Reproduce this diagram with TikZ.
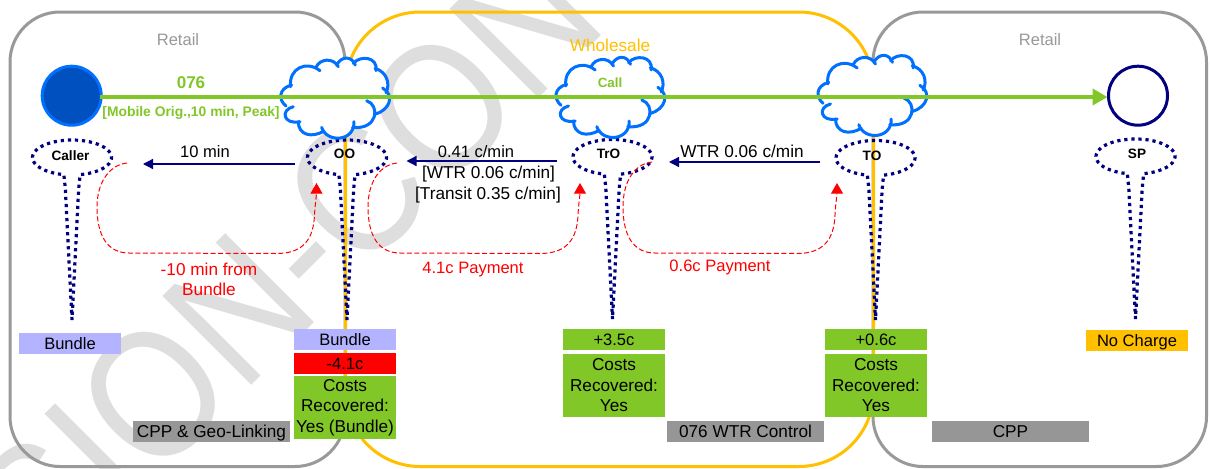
\documentclass[tikz,border=0pt]{standalone}
\usepackage{fontspec}
\setmainfont{Liberation Sans}
\newfontfamily\wmfont[FakeStretch=0.87]{Liberation Sans}
\usetikzlibrary{arrows.meta}
\definecolor{gold}{HTML}{FFC000}
\definecolor{panelgrey}{HTML}{999999}
\definecolor{tagrey}{HTML}{969696}
\definecolor{lilac}{HTML}{B3B3FF}
\definecolor{leaf}{HTML}{82C728}
\definecolor{cloudblue}{HTML}{0070FF}
\definecolor{deep}{HTML}{0050BF}
\definecolor{inknavy}{HTML}{000080}
\definecolor{wm}{HTML}{DEDEDE}
\def\px{0.75pt}
\newcommand{\fs}{\fontsize{12.4}{15.4}\selectfont}
\newcommand{\fm}{\fontsize{12.9}{15.4}\selectfont}
\newcommand{\fb}{\fontsize{10.2}{12}\selectfont\bfseries}
\tikzset{
  panel/.style={line width=3*\px,rounded corners=#1},
  tag/.style={rectangle,inner sep=0pt,font=\fs,align=center,text=black},
  plain/.style={inner sep=0pt,font=\fs,align=center},
  plainm/.style={inner sep=0pt,font=\fm,align=center},
  wbox/.style={tag,minimum width=102*\px,minimum height=21*\px,text height=9.6pt,text depth=0pt},
  tallbox/.style={tag,font=\fm,fill=leaf,minimum width=102*\px,minimum height=63*\px},
  graybox/.style={tag,font=\fm,fill=tagrey,minimum width=157*\px,minimum height=21*\px,text height=9.6pt,text depth=0pt},
  flow/.style={draw=inknavy,line width=1.3*\px,-{Triangle[length=10*\px,width=10*\px]}},
  pay/.style={draw=red,line width=1*\px,dash pattern=on 3.75pt off 1.9pt,-{Triangle[length=8pt,width=9pt]}},
  funnel/.style={draw=inknavy,line width=2.4pt,dash pattern=on 2.4pt off 2.9pt},
  lobe/.style={draw=cloudblue,line width=3*\px,line cap=round},
  rname/.style={inner sep=0pt,font=\fb},
  redtxt/.style={plainm,text=red},
}
\newcommand{\funnelat}[3]{% x, ellipse y, tip y
  \draw[funnel] (#1,#3) -- (#1-6.6,190) .. controls (#1-7.2,183) and (#1-7.5,180) .. (#1-8.2,#2+17.1)
    -- plot[domain=102:438,samples=70,smooth] ({#1+39.5*cos(\x)},{#2+17.5*sin(\x)})
    .. controls (#1+7.5,180) and (#1+7.2,183) .. (#1+6.6,190) -- (#1,#3);
}
\newcommand{\cloudat}[2]{%
  \begin{scope}[shift={(#1,#2)},x=.25pt,y=-.25pt,shift={(-196,-143)}]
    \fill[white] (48,168) .. controls (25,150) and (25,115) .. (65,105)
      .. controls (55,55) and (110,30) .. (150,62)
      .. controls (150,25) and (190,22) .. (205,50)
      .. controls (215,17) and (245,17) .. (256,45)
      .. controls (270,15) and (325,20) .. (318,62)
      .. controls (350,65) and (362,100) .. (348,128)
      .. controls (375,135) and (360,180) .. (316,192)
      .. controls (325,240) and (270,240) .. (248,232)
      .. controls (235,275) and (170,280) .. (155,232)
      .. controls (125,265) and (85,255) .. (85,215)
      .. controls (40,225) and (30,180) .. (48,168) -- cycle;
    \draw[lobe] (48,168) .. controls (25,150) and (25,115) .. (65,105);
    \draw[lobe] (62,110) .. controls (55,55) and (110,30) .. (150,62);
    \draw[lobe] (138,52) .. controls (150,25) and (190,22) .. (205,50);
    \draw[lobe] (200,45) .. controls (215,17) and (245,17) .. (256,45);
    \draw[lobe] (250,40) .. controls (270,15) and (325,20) .. (318,62);
    \draw[lobe] (315,55) .. controls (350,65) and (362,100) .. (348,128);
    \draw[lobe] (338,114) .. controls (375,135) and (360,180) .. (316,192);
    \draw[lobe] (290,152) .. controls (330,165) and (325,240) .. (248,232);
    \draw[lobe] (252,215) .. controls (255,275) and (170,280) .. (155,232);
    \draw[lobe] (162,243) .. controls (125,265) and (85,255) .. (85,215);
    \draw[lobe] (90,215) .. controls (40,225) and (30,180) .. (70,170);
  \end{scope}
}
\newcommand{\payloop}[6]{% name, start x, start y, left x, tip x, tip y
  \coordinate (#1s) at (#2,#3);
  \coordinate (#1t) at (#5,#6);
  \draw[pay] (#1s) .. controls (#2-18,#3+2) and (#4,#3+20) .. (#4,207)
    .. controls (#4,235) and (#4+10,253) .. (#4+32,253)
    -- (#5-40,253.5) .. controls (#5-14,253.5) and (#5-3,240) .. (#5-2,215)
    .. controls (#5-1.5,205) and (#5,195) .. (#1t);
}
\begin{document}
\begin{tikzpicture}[x=0.75pt,y=-0.75pt]
\useasboundingbox (0,0) rectangle (1210,468);
\fill[white] (0,0) rectangle (1210,468);
% watermark
\begin{scope}
  \clip (0,0) rectangle (1210,468);
  \node[anchor=base west,rotate=45,inner sep=0pt,text=wm,font=\wmfont\fontsize{137}{137}\selectfont] (mark) at (48.5,588.5) {SION-CON};
\end{scope}
% panels
\draw[panel=37.5pt,draw=panelgrey] (10,12) rectangle (345,466.5);
\draw[panel=37.5pt,draw=panelgrey] (873,12) rectangle (1206.5,466.5);
\draw[panel=56pt,draw=gold] (345.5,12) rectangle (873.5,466.5);
\node[plain,text=panelgrey] (ret1) at (178,39.5) {Retail};
\node[plain,text=panelgrey] (ret2) at (1040,39.5) {Retail};
\node[plainm,text=gold] (whole) at (610,45.5) {Wholesale};
% funnels
\funnelat{72}{157.5}{320}
\funnelat{347}{157.5}{320}
\funnelat{612.5}{157}{319}
\funnelat{875.5}{158}{320}
\funnelat{1135.5}{156.5}{319}
\node[rname] (caller) at (70.5,156) {Caller};
\node[rname] (oo) at (344.5,154) {OO};
\node[rname] (tro) at (608.5,154) {TrO};
\node[rname] (to) at (872,156) {TO};
\node[rname] (sp) at (1137,154) {SP};
% clouds
\cloudat{335.3}{97.7}
\cloudat{610.5}{97}
\cloudat{872.5}{95}
% endpoints
\node[circle,draw=cloudblue,fill=deep,line width=3*\px,minimum size=59*\px,inner sep=0pt] (orig) at (71.7,95.7) {};
\node[circle,draw=inknavy,fill=white,line width=3*\px,minimum size=59*\px,inner sep=0pt] (dest) at (1138,95.7) {};
\coordinate (callstart) at (100,97);
\coordinate (callend) at (1107.5,97);
\draw[draw=leaf,line width=4*\px,-{Triangle[length=15*\px,width=16*\px]}] (callstart) -- (callend);
\node[inner sep=0pt,text=leaf,font=\fontsize{12.8}{14}\selectfont\bfseries] (n076) at (191,83) {076};
\node[inner sep=0pt,text=leaf,font=\fontsize{10.4}{12}\selectfont\bfseries] (mob) at (191,112.5) {[Mobile Orig.,10 min, Peak]};
\node[inner sep=0pt,text=leaf,font=\fontsize{10}{12}\selectfont\bfseries] (call) at (610,83) {Call};
% flows
\coordinate (f1s) at (295,164); \coordinate (f1t) at (143,164);
\coordinate (f2s) at (557,161); \coordinate (f2t) at (406.5,161);
\coordinate (f3s) at (820,162); \coordinate (f3t) at (669,162);
\draw[flow] (f1s) -- (f1t);
\draw[flow] (f2s) -- (f2t);
\draw[flow] (f3s) -- (f3t);
\node[plain] (l1) at (205,152) {10 min};
\node[plain] (l2) at (476,151.5) {0.41 c/min};
\node[plainm] (l3) at (488.5,174.5) {[WTR 0.06 c/min]};
\node[plainm] (l4) at (488,195.5) {[Transit 0.35 c/min]};
\node[plainm] (l5) at (742,151.5) {WTR 0.06 c/min};
% payments
\payloop{p1}{127}{163}{97}{316.5}{183}
\payloop{p2}{397}{163}{368}{580}{183}
\payloop{p3}{652}{162}{623}{837}{183}
\node[redtxt] (r1) at (209,269.5) {-10 min from};
\node[redtxt] (r1b) at (209,289.5) {Bundle};
\node[plain,text=red] (r2) at (473,269.5) {4.1c Payment};
\node[plain,text=red] (r3) at (720,267.5) {0.6c Payment};
% boxes
\node[wbox,fill=lilac] (b1) at (70,343.5) {Bundle};
\node[wbox,fill=lilac] (b2) at (345,339.5) {Bundle};
\node[wbox,fill=red] (b3) at (345,363.5) {-4.1c};
\node[tallbox] (b4) at (345,407.5) {Costs\\Recovered:\\Yes (Bundle)};
\node[wbox,fill=leaf] (b5) at (614,339.5) {+3.5c};
\node[tallbox] (b6) at (614,385.5) {Costs\\Recovered:\\Yes};
\node[wbox,fill=leaf] (b7) at (876,339.5) {+0.6c};
\node[tallbox] (b8) at (876,385.5) {Costs\\Recovered:\\Yes};
\node[wbox,fill=gold] (b9) at (1137,340.5) {No Charge};
\node[graybox] (g1) at (211.5,431.5) {CPP \& Geo-Linking};
\node[graybox] (g2) at (745.5,431.5) {076 WTR Control};
\node[graybox] (g3) at (1010.5,431.5) {CPP};
\end{tikzpicture}
\end{document}
